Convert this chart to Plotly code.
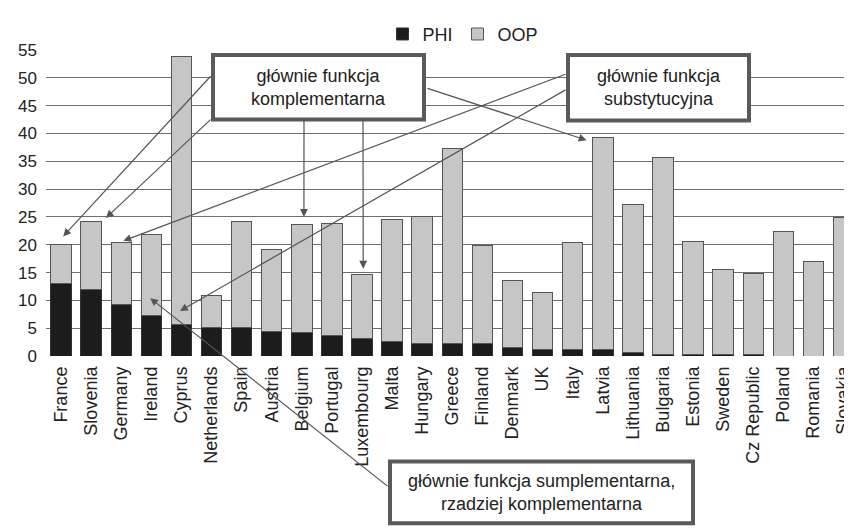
import plotly.graph_objects as go

COUNTRIES = [
    "France", "Slovenia", "Germany", "Ireland", "Cyprus", "Netherlands",
    "Spain", "Austria", "Belgium", "Portugal", "Luxembourg", "Malta",
    "Hungary", "Greece", "Finland", "Denmark", "UK", "Italy", "Latvia",
    "Lithuania", "Bulgaria", "Estonia", "Sweden", "Cz Republic", "Poland",
    "Romania", "Slovakia",
]
PHI = [13.0, 12.0, 9.3, 7.2, 5.6, 5.1, 5.1, 4.4, 4.2, 3.6, 3.2, 2.6, 2.2, 2.2,
       2.2, 1.6, 1.1, 1.1, 1.1, 0.6, 0.2, 0.3, 0.3, 0.3, 0.0, 0.0, 0.0]
OOP = [7.0, 12.1, 11.1, 14.7, 48.3, 5.8, 19.0, 14.7, 19.5, 20.3, 11.5, 21.9,
       22.9, 35.1, 17.6, 11.9, 10.4, 19.3, 38.1, 26.6, 35.5, 20.3, 15.3, 14.6,
       22.4, 17.0, 24.9]

Y_TICKS = [0, 5, 10, 15, 20, 25, 30, 35, 40, 45, 50, 55]

# the page body adds an 8px margin, so work in page pixels and shift back
OFF = 8
# plot area in page pixels
L, T, W, H = 46, 43, 806, 313
XR = [-0.5, 26.28]
YR = [0, 55]

EDGE = "#555555"
TEXT = "#222222"
FONT = "Liberation Sans, Arial, sans-serif"


def px(xd):
    return L + (xd - XR[0]) / (XR[1] - XR[0]) * W


def py(yd):
    return T + (YR[1] - yd) / (YR[1] - YR[0]) * H


def paper_x(p):
    return (p - L) / W


def paper_y(p):
    return (T + H - p) / H


fig = go.Figure()
fig.add_trace(go.Bar(
    name="PHI", x=COUNTRIES, y=PHI,
    marker=dict(color="#1c1c1c", line=dict(color="#333333", width=1)),
))
fig.add_trace(go.Bar(
    name="OOP", x=COUNTRIES, y=OOP,
    marker=dict(color="#c6c6c6", line=dict(color=EDGE, width=1)),
))

# text boxes (page pixel corners) and their labels
boxes = [
    ((213, 48, 424, 114), "głównie funkcja<br>komplementarna"),
    ((568, 48, 749, 115), "głównie funkcja<br>substytucyjna"),
    ((390, 464, 693, 527), "głównie funkcja sumplementarna,<br>rzadziej komplementarna"),
]
shapes = []
annotations = []
for (x0, y0, x1, y1), label in boxes:
    shapes.append(dict(
        type="rect", xref="paper", yref="paper", layer="above",
        x0=paper_x(x0), x1=paper_x(x1), y0=paper_y(y1), y1=paper_y(y0),
        fillcolor="white", line=dict(color="#5a5a5a", width=4),
    ))
    annotations.append(dict(
        xref="paper", yref="paper", showarrow=False,
        x=paper_x((x0 + x1) / 2), y=paper_y((y0 + y1) / 2),
        xanchor="center", yanchor="middle", text=label,
        font=dict(size=18, color=TEXT, family=FONT),
    ))

# arrows: head in data units, tail in page pixels
arrows = [
    ((0.07, 21.5), (212, 72)),
    ((1.49, 24.8), (212, 115)),
    ((8.07, 25.0), (304, 115)),
    ((10.04, 15.7), (363, 115)),
    ((17.46, 38.8), (426, 83)),
    ((2.07, 20.7), (567, 71)),
    ((3.95, 8.1), (567, 88)),
    ((2.96, 10.4), (389, 486)),
]
for (hx, hy), (tx, ty) in arrows:
    annotations.append(dict(
        xref="x", yref="y", x=hx, y=hy, text="",
        showarrow=True, axref="pixel", ayref="pixel",
        ax=tx - px(hx), ay=ty - py(hy),
        arrowhead=2, arrowsize=1.3, arrowwidth=1.2, arrowcolor=EDGE, standoff=0,
    ))

fig.update_layout(
    width=852, height=530,
    barmode="stack", bargap=0.32,
    paper_bgcolor="white", plot_bgcolor="white",
    margin=dict(l=L - OFF, r=852 - (L - OFF) - W, t=T - OFF, b=530 - (T - OFF) - H),
    font=dict(family=FONT, color=TEXT, size=17),
    legend=dict(
        orientation="h", traceorder="normal",
        x=paper_x(463), xanchor="center", y=paper_y(8), yanchor="top",
        font=dict(size=18, color=TEXT), bgcolor="rgba(0,0,0,0)",
    ),
    xaxis=dict(
        range=XR, tickangle=-90, tickfont=dict(size=18), showgrid=False,
        ticks="", ticklabelstandoff=6, automargin=False,
    ),
    yaxis=dict(
        range=YR, tickvals=Y_TICKS, tickfont=dict(size=17),
        gridcolor="#6e6e6e", gridwidth=1, zeroline=False, ticks="",
        ticklabelstandoff=8, automargin=False,
    ),
    shapes=shapes,
    annotations=annotations,
)

fig.write_html("out.html")
